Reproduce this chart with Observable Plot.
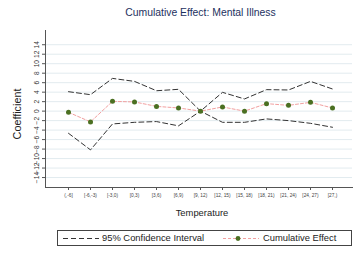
<!DOCTYPE html>
<html>
<head>
<meta charset="utf-8">
<script src="https://cdn.jsdelivr.net/npm/d3@7"></script>
<script src="https://cdn.jsdelivr.net/npm/@observablehq/plot@0.6"></script>
<style>
  html, body { margin: 0; padding: 0; background: #fff; }
  #wrap { position: relative; width: 353px; height: 253px; overflow: hidden; font-family: "Liberation Sans", Arial, sans-serif; }
  #chart { position: absolute; left: 0; top: 0; }
  #title { position: absolute; left: 100px; width: 201px; top: 7px; text-align: center; font-size: 10.4px; color: #1d3160; white-space: nowrap; }
  #legend { position: absolute; left: 57px; top: 230px; width: 293px; height: 14px; border: 1px solid #444; box-sizing: content-box; font-size: 9.4px; color: #222; }
  #legend svg { position: absolute; top: 0; }
  #legend span { position: absolute; top: 1px; white-space: nowrap; }
</style>
</head>
<body>
<div id="wrap">
  <div id="chart"></div>
  <div id="title">Cumulative Effect: Mental Illness</div>
  <div id="legend">
    <svg style="left:3px" width="40" height="14"><line x1="2" x2="38" y1="7.5" y2="7.5" stroke="#333" stroke-width="1" stroke-dasharray="5,3"/></svg>
    <span style="left:44px">95% Confidence Interval</span>
    <svg style="left:163px" width="40" height="14"><line x1="2" x2="38" y1="7.5" y2="7.5" stroke="#f2a0a0" stroke-width="1" stroke-dasharray="3,2"/><circle cx="17" cy="7.5" r="2.4" fill="#4b7022"/></svg>
    <span style="left:205px">Cumulative Effect</span>
  </div>
</div>
<script>
const categories = ["(,-6]","[-6,-3)","[-3,0)","[0,3)","[3,6)","[6,9)","[9, 12)","[12, 15)","[15, 18)","[18, 21)","[21, 24)","[24, 27)","[27,)"];
const effect = [-0.25, -2.27, 2.06, 1.94, 1.0, 0.67, 0, 0.88, 0, 1.58, 1.22, 1.85, 0.67];
const upper  = [4.1, 3.47, 6.9, 6.27, 4.3, 4.6, 0, 3.96, 2.57, 4.53, 4.46, 6.27, 4.67];
const lower  = [-4.67, -8.17, -2.7, -2.36, -2.2, -3.1, 0, -2.36, -2.36, -1.64, -2.0, -2.57, -3.4];
const yTicks = [-14,-12,-10,-8,-6,-4,-2,0,2,4,6,8,10,12,14];

const data = categories.map((c, i) => ({cat: c, effect: effect[i], upper: upper[i], lower: lower[i]}));

const chart = Plot.plot({
  width: 353,
  height: 253,
  marginTop: 30,
  marginBottom: 66,
  marginLeft: 45,
  marginRight: 1,
  style: {fontFamily: "Liberation Sans, Arial, sans-serif", background: "#fff"},
  x: {type: "point", domain: categories, range: [55, 345]},
  y: {domain: [-16.1, 17]},
  marks: [
    Plot.gridY(yTicks, {stroke: "#e2ebef", strokeOpacity: 1}),
    Plot.frame({anchor: "left", stroke: "#555"}),
    Plot.frame({anchor: "bottom", stroke: "#555"}),
    Plot.axisY(yTicks, {tickSize: 3, tickRotate: -90, fontSize: 6.6, tickPadding: 4, stroke: "#555", fill: "#333", label: null}),
    Plot.text(["Coefficient"], {frameAnchor: "left", textAnchor: "middle", dx: -28, dy: 5, rotate: -90, fontSize: 10.8, fill: "#222"}),
    Plot.axisX({tickSize: 3, fontSize: 4.8, tickPadding: 3, stroke: "#555", fill: "#444", label: null}),
    Plot.text(["Temperature"], {frameAnchor: "bottom", dy: 28, fontSize: 9.4, fill: "#222", dx: 3}),
    Plot.line(data, {x: "cat", y: "upper", stroke: "#333", strokeWidth: 1, strokeDasharray: "5,3"}),
    Plot.line(data, {x: "cat", y: "lower", stroke: "#333", strokeWidth: 1, strokeDasharray: "5,3"}),
    Plot.line(data, {x: "cat", y: "effect", stroke: "#f2a0a0", strokeWidth: 1, strokeDasharray: "3,2"}),
    Plot.dot(data, {x: "cat", y: "effect", fill: "#4b7022", r: 2.5})
  ]
});
document.getElementById("chart").appendChild(chart);
</script>
</body>
</html>
